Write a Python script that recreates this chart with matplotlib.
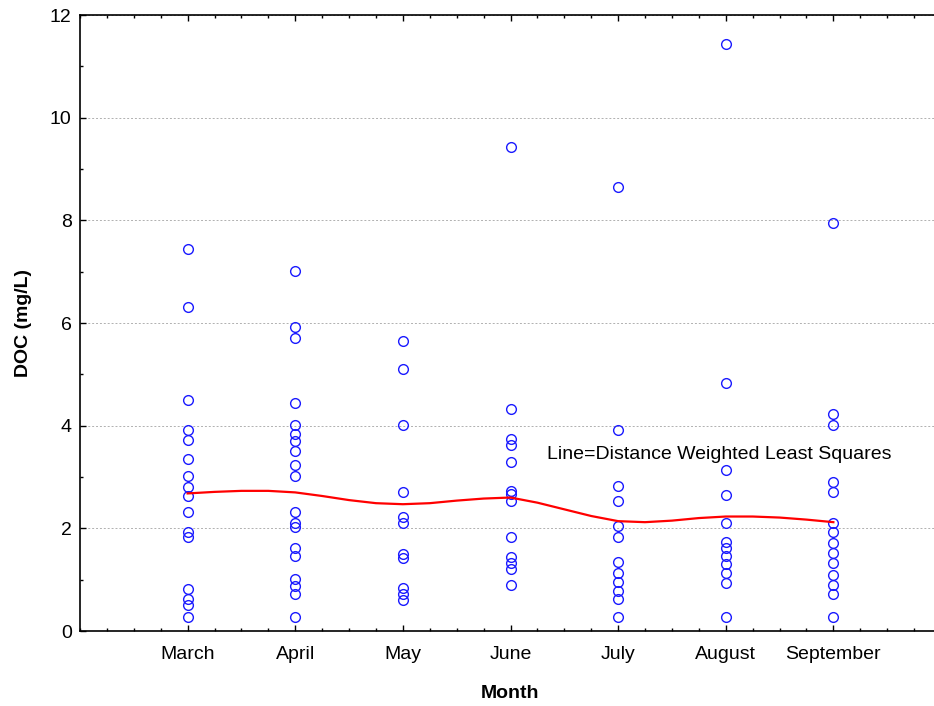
import matplotlib
matplotlib.use("Agg")
import matplotlib.pyplot as plt
from matplotlib.ticker import MultipleLocator

plt.rcParams['font.family'] = ['Liberation Sans', 'DejaVu Sans']

months = ["March", "April", "May", "June", "July", "August", "September"]

march = [7.44, 6.31, 4.50, 3.92, 3.73, 3.36, 3.01, 2.81, 2.63, 2.31, 1.92, 1.83, 0.82, 0.63, 0.50, 0.27]
april = [7.01, 5.92, 5.70, 4.44, 4.01, 3.84, 3.71, 3.51, 3.23, 3.02, 2.31, 2.11, 2.02, 1.61, 1.46, 1.01, 0.88, 0.72, 0.27]
may = [5.64, 5.10, 4.01, 2.70, 2.23, 2.11, 1.50, 1.42, 0.83, 0.72, 0.60]
june = [9.42, 4.33, 3.75, 3.62, 3.30, 2.73, 2.67, 2.54, 1.83, 1.44, 1.32, 1.20, 0.90]
july = [8.64, 3.92, 2.82, 2.54, 2.04, 1.84, 1.34, 1.13, 0.96, 0.77, 0.62, 0.28]
august = [11.43, 4.84, 3.14, 2.64, 2.11, 1.74, 1.61, 1.46, 1.31, 1.13, 0.93, 0.28]
september = [7.94, 4.22, 4.01, 2.91, 2.70, 2.11, 1.93, 1.72, 1.51, 1.32, 1.10, 0.90, 0.72, 0.28]

# smoothed (DWLS) line at quarter-month steps
smooth_x = [1.0, 1.25, 1.5, 1.75, 2.0, 2.25, 2.5, 2.75, 3.0, 3.25, 3.5, 3.75, 4.0,
            4.25, 4.5, 4.75, 5.0, 5.25, 5.5, 5.75, 6.0, 6.25, 6.5, 6.75, 7.0]
smooth_y = [2.68, 2.71, 2.73, 2.73, 2.70, 2.63, 2.55, 2.49, 2.47, 2.49, 2.54, 2.58, 2.60,
            2.50, 2.37, 2.24, 2.14, 2.12, 2.15, 2.20, 2.23, 2.23, 2.21, 2.17, 2.12]

groups = [march, april, may, june, july, august, september]

fig = plt.figure(figsize=(9.34, 7.06), dpi=100)
ax = fig.add_axes([80 / 934, 75 / 706, 861 / 934, 616 / 706])

for i, vals in enumerate(groups):
    ax.plot([i + 1] * len(vals), vals, linestyle='none', marker='o', markersize=7,
            markerfacecolor='none', markeredgecolor='#1a1aff', markeredgewidth=1.0, zorder=3)

ax.plot(smooth_x, smooth_y, color='#ff0000', linewidth=1.6, zorder=4)

ax.text(4.34, 3.43, "Line=Distance Weighted Least Squares", fontsize=14, va='center', ha='left')

ax.set_xlim(0, 8)
ax.set_ylim(0, 12)
ax.set_xticks(range(1, 8))
ax.set_xticklabels(months, fontsize=14)
ax.xaxis.set_minor_locator(MultipleLocator(0.25))
ax.yaxis.set_major_locator(MultipleLocator(2))
ax.yaxis.set_minor_locator(MultipleLocator(1))
ax.tick_params(axis='y', labelsize=14)
ax.tick_params(which='both', direction='in', top=True, right=False, width=1.0)
ax.tick_params(which='major', length=4)
ax.tick_params(which='minor', length=2.5)
ax.tick_params(axis='x', which='major', pad=11)
ax.tick_params(axis='y', which='major', pad=6)

ax.spines['right'].set_visible(False)
for s in ['left', 'bottom', 'top']:
    ax.spines[s].set_linewidth(1.2)

ax.yaxis.grid(True, which='major', linestyle=(0, (2, 2)), color='#b0b0b0', linewidth=0.7)
ax.set_axisbelow(True)

ax.set_xlabel("Month", fontsize=14, fontweight='bold', labelpad=16)
ax.set_ylabel("DOC (mg/L)", fontsize=14, fontweight='bold', labelpad=13)

fig.savefig("out.png", dpi=100)
